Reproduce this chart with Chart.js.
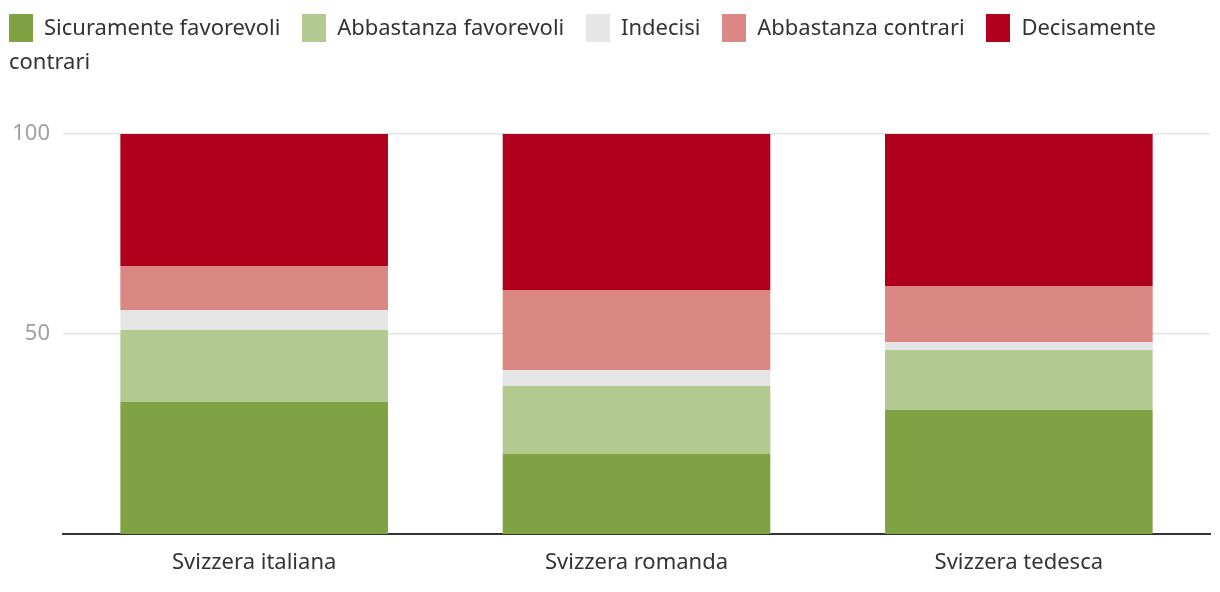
<!DOCTYPE html>
<html>
<head>
<meta charset="utf-8">
<script src="https://cdn.jsdelivr.net/npm/chart.js@4"></script>
<style>
  html, body { margin: 0; padding: 0; background: #fff; }
  #wrap { position: relative; width: 1220px; height: 592px; }
  #legend {
    position: absolute; left: 9px; top: 9px; width: 1175px;
    font-family: "Noto Sans", sans-serif; font-size: 22px; line-height: 34px; color: #333;
  }
  .item { margin-right: 16px; }
  .sw { display: inline-block; width: 24px; height: 28px; vertical-align: -7px; margin-right: 11px; }
  canvas { position: absolute; left: 0; top: 0; }
</style>
</head>
<body>
<div id="wrap">
  <canvas id="c" width="1220" height="592"></canvas>
  <div id="legend"></div>
</div>
<script>
const categories = ["Svizzera italiana", "Svizzera romanda", "Svizzera tedesca"];
const seriesNames = ["Sicuramente favorevoli", "Abbastanza favorevoli", "Indecisi", "Abbastanza contrari", "Decisamente contrari"];
const sicuramenteFavorevoli = [33, 20, 31];
const abbastanzaFavorevoli = [18, 17, 15];
const indecisi = [5, 4, 2];
const abbastanzaContrari = [11, 20, 14];
const decisamenteContrari = [33, 39, 38];
const yTicks = [50, 100];
const colors = ["#7fa343", "#b2c98f", "#e5e5e5", "#db8783", "#b1001e"];

const seriesValues = [sicuramenteFavorevoli, abbastanzaFavorevoli, indecisi, abbastanzaContrari, decisamenteContrari];

// HTML legend
const legend = document.getElementById('legend');
seriesNames.forEach((n, i) => {
  const s = document.createElement('span');
  s.className = 'item';
  s.innerHTML = '<span class="sw" style="background:' + colors[i] + '"></span>' + n;
  legend.appendChild(s);
  legend.appendChild(document.createTextNode(' '));
});

new Chart(document.getElementById('c'), {
  type: 'bar',
  data: {
    labels: categories,
    datasets: seriesNames.map((n, i) => ({
      label: n,
      data: seriesValues[i],
      backgroundColor: colors[i],
      borderWidth: 0,
      categoryPercentage: 1,
      barPercentage: 0.7
    }))
  },
  options: {
    responsive: false,
    animation: false,
    layout: { padding: { top: 134, right: 10, left: 0, bottom: 0 } },
    plugins: { legend: { display: false }, tooltip: { enabled: false } },
    scales: {
      x: {
        stacked: true,
        grid: { display: false },
        border: { display: true, color: '#333', width: 2 },
        ticks: { color: '#333', padding: 8, font: { family: 'Noto Sans', size: 22 } },
        afterFit: s => { s.height = 58; }
      },
      y: {
        stacked: true,
        min: 0, max: 100,
        afterBuildTicks: s => { s.ticks = yTicks.map(v => ({ value: v })); },
        grid: { color: '#e3e3e3', lineWidth: 1.5, drawTicks: false },
        border: { display: false },
        ticks: { color: '#a0a0a0', padding: 13, font: { family: 'Noto Sans', size: 22 } },
        afterFit: s => { s.width = 63; }
      }
    }
  }
});
</script>
</body>
</html>
